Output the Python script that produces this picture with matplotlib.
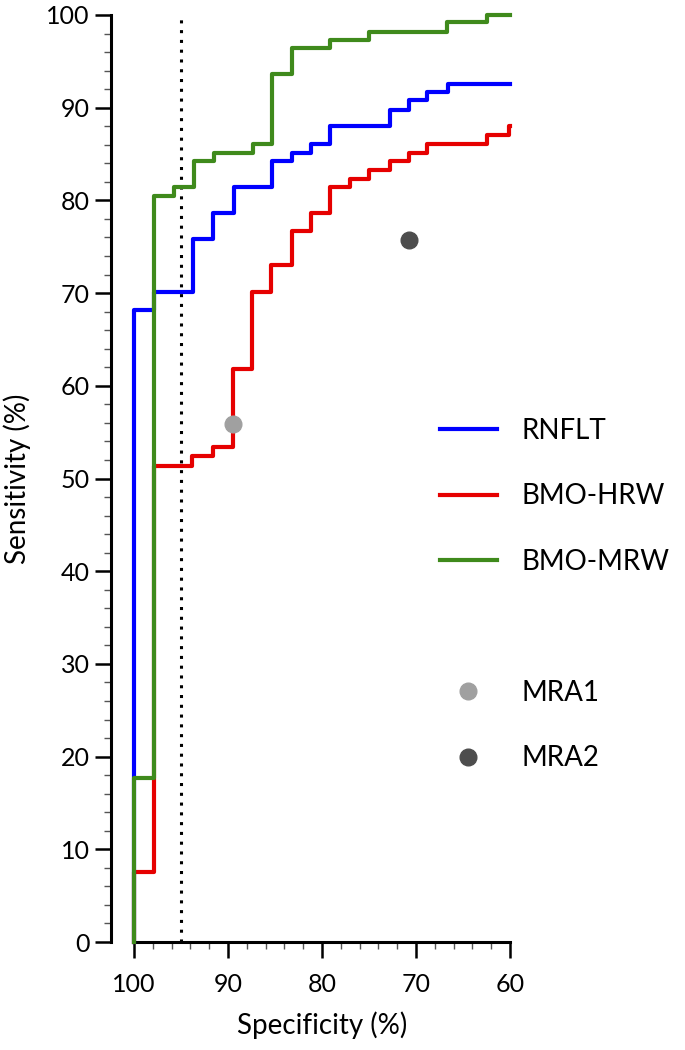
import matplotlib
matplotlib.use('Agg')
import matplotlib.pyplot as plt
from matplotlib.lines import Line2D
from matplotlib.ticker import MultipleLocator

plt.rcParams['font.family'] = ['Lato', 'DejaVu Sans']

# ROC step corners (specificity %, sensitivity %), drawn as steps-post
rnflt_spec = [100, 100, 97.87, 93.7, 91.6, 89.4, 85.3, 83.2, 81.2, 79.1, 72.8, 70.7, 68.8, 66.6, 60]
rnflt_sens = [0, 68.2, 70.1, 75.8, 78.6, 81.4, 84.2, 85.1, 86.1, 88.0, 89.8, 90.8, 91.7, 92.6, 92.6]

hrw_spec = [100, 100, 97.87, 93.8, 91.6, 89.5, 87.5, 85.4, 83.2, 81.2, 79.1, 77.0, 75.0, 72.8,
            70.7, 68.8, 62.5, 60.1, 60]
hrw_sens = [0, 7.5, 51.4, 52.4, 53.4, 61.8, 70.1, 73.0, 76.7, 78.6, 81.4, 82.3, 83.3, 84.2,
            85.1, 86.1, 87.1, 88.0, 88.0]

mrw_spec = [100, 100, 97.87, 95.74, 93.6, 91.5, 87.3, 85.3, 83.2, 79.1, 75.0, 66.7, 62.5, 60]
mrw_sens = [0, 17.7, 80.5, 81.4, 84.2, 85.1, 86.1, 93.6, 96.4, 97.3, 98.2, 99.2, 100, 100]

mra_names = ['MRA1', 'MRA2']
mra_spec = [89.5, 70.7]
mra_sens = [55.9, 75.7]
mra_colors = ['#a0a0a0', '#4d4d4d']

cutoff = 95

fig = plt.figure(figsize=(6.85, 10.5), dpi=100)
ax = fig.add_axes([134 / 685, 1 - 942 / 1050, 376 / 685, 927 / 1050])

ax.axvline(cutoff, color='black', linestyle=(0, (1, 2.2)), linewidth=2.2, zorder=1)

l_hrw, = ax.plot(hrw_spec, hrw_sens, drawstyle='steps-post', color='#e60000', lw=3, zorder=2, clip_on=False)
l_rnflt, = ax.plot(rnflt_spec, rnflt_sens, drawstyle='steps-post', color='#0000ff', lw=3, zorder=3, clip_on=False)
l_mrw, = ax.plot(mrw_spec, mrw_sens, drawstyle='steps-post', color='#3f8a1c', lw=3, zorder=4, clip_on=False)

points = []
for name, sx, sy, c in zip(mra_names, mra_spec, mra_sens, mra_colors):
    p, = ax.plot([sx], [sy], 'o', color=c, markersize=12, linestyle='none', zorder=5, label=name)
    points.append(p)

ax.set_xlim(100, 60)
ax.set_ylim(0, 100)

for s in ['top', 'right']:
    ax.spines[s].set_visible(False)
ax.spines['left'].set_position(('outward', 16.5))
ax.spines['left'].set_bounds(0, 100)
ax.spines['left'].set_linewidth(2.2)
ax.spines['bottom'].set_linewidth(2.2)

ax.xaxis.set_major_locator(MultipleLocator(10))
ax.xaxis.set_minor_locator(MultipleLocator(2))
ax.yaxis.set_major_locator(MultipleLocator(10))
ax.yaxis.set_minor_locator(MultipleLocator(2))
ax.tick_params(which='major', length=11.5, width=1.8, labelsize=18, direction='out')
ax.tick_params(which='minor', length=5, width=1.0, color='#555555', direction='out')
ax.tick_params(axis='y', which='major', pad=4)
ax.tick_params(axis='x', which='major', pad=11)

ax.set_xlabel('Specificity (%)', fontsize=20, labelpad=11)
ax.set_ylabel('Sensitivity (%)', fontsize=20, labelpad=11)

blank = Line2D([], [], linestyle='none')
handles = [l_rnflt, l_hrw, l_mrw, blank] + points
labels = ['RNFLT', 'BMO-HRW', 'BMO-MRW', ''] + mra_names
fig.legend(handles, labels, loc='upper left', bbox_to_anchor=(440 / 685, 1 - 418 / 1050),
           frameon=False, fontsize=20, borderpad=0, borderaxespad=0,
           handlelength=2.05, handletextpad=0.9, labelspacing=1.42, numpoints=1)

fig.savefig('out.png', dpi=100)
